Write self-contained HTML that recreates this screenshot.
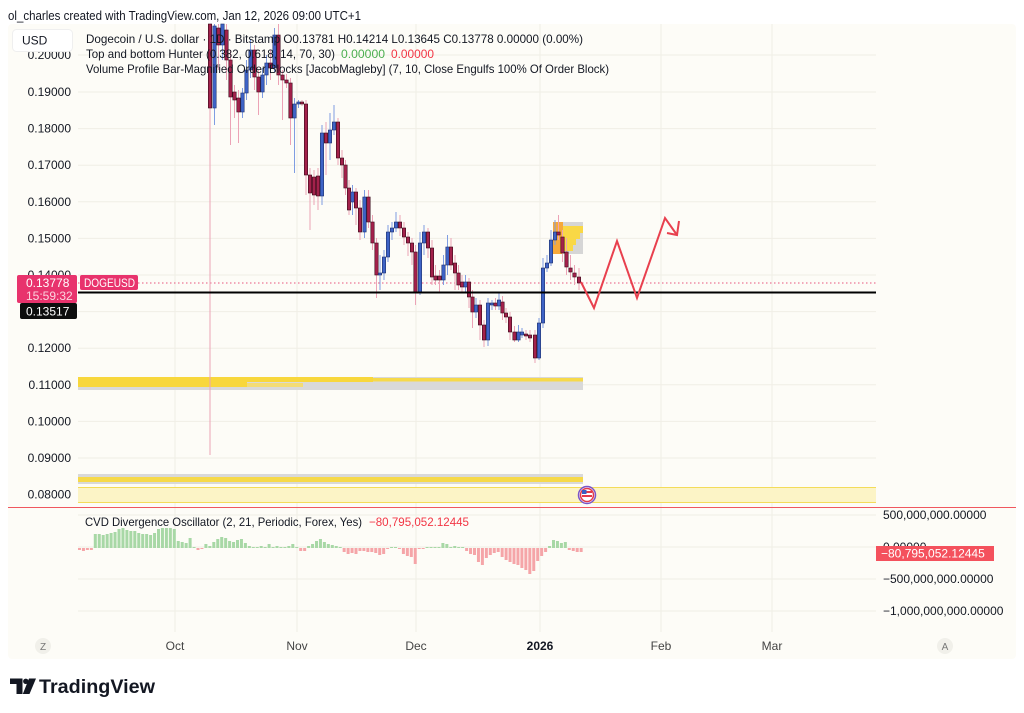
<!DOCTYPE html>
<html>
<head>
<meta charset="utf-8">
<style>
html,body{margin:0;padding:0;background:#fff;}
body{width:1024px;height:713px;overflow:hidden;}
svg{display:block;font-family:"Liberation Sans",Arial,sans-serif;}
</style>
</head>
<body>
<svg id="s" width="1024" height="713" viewBox="0 0 1024 713" xmlns="http://www.w3.org/2000/svg">
<rect x="0" y="0" width="1024" height="713" fill="#ffffff"/>
<text x="8" y="20" font-size="13" fill="#131722" textLength="353" lengthAdjust="spacingAndGlyphs">ol_charles created with TradingView.com, Jan 12, 2026 09:00 UTC+1</text>
<rect x="8" y="24" width="1008" height="635" rx="4" fill="#fdfcf7"/>

<!-- grid -->
<g stroke="#f0eee6" stroke-width="1">
<line x1="78" y1="55" x2="876" y2="55"/>
<line x1="78" y1="92" x2="876" y2="92"/>
<line x1="78" y1="128.6" x2="876" y2="128.6"/>
<line x1="78" y1="165.2" x2="876" y2="165.2"/>
<line x1="78" y1="201.8" x2="876" y2="201.8"/>
<line x1="78" y1="238.4" x2="876" y2="238.4"/>
<line x1="78" y1="275" x2="876" y2="275"/>
<line x1="78" y1="311.6" x2="876" y2="311.6"/>
<line x1="78" y1="348.2" x2="876" y2="348.2"/>
<line x1="78" y1="384.8" x2="876" y2="384.8"/>
<line x1="78" y1="421.4" x2="876" y2="421.4"/>
<line x1="78" y1="458" x2="876" y2="458"/>
<line x1="78" y1="494.6" x2="876" y2="494.6"/>
<line x1="78" y1="515" x2="876" y2="515"/>
<line x1="78" y1="547" x2="876" y2="547"/>
<line x1="78" y1="579" x2="876" y2="579"/>
<line x1="78" y1="611" x2="876" y2="611"/>
<line x1="175" y1="24" x2="175" y2="632"/>
<line x1="297" y1="24" x2="297" y2="632"/>
<line x1="416" y1="24" x2="416" y2="632"/>
<line x1="540" y1="24" x2="540" y2="632"/>
<line x1="661" y1="24" x2="661" y2="632"/>
<line x1="772" y1="24" x2="772" y2="632"/>
</g>

<!-- left price axis labels -->
<g font-size="12" fill="#131722" text-anchor="end">
<text x="71" y="59">0.20000</text>
<text x="71" y="96">0.19000</text>
<text x="71" y="132.6">0.18000</text>
<text x="71" y="169.2">0.17000</text>
<text x="71" y="205.8">0.16000</text>
<text x="71" y="242.4">0.15000</text>
<text x="71" y="279">0.14000</text>
<text x="71" y="352.2">0.12000</text>
<text x="71" y="388.8">0.11000</text>
<text x="71" y="425.4">0.10000</text>
<text x="71" y="462">0.09000</text>
<text x="71" y="498.6">0.08000</text>
</g>

<!-- order block zones -->
<rect x="78" y="377" width="505" height="13" fill="#d9d9d9"/>
<rect x="78" y="378" width="505" height="3.5" fill="#f6d94a"/>
<rect x="78" y="377" width="295" height="5" fill="#f8d73c"/>
<rect x="78" y="381" width="169" height="6" fill="#f8d73c"/>
<rect x="247" y="383" width="56" height="4" fill="#f3dc76"/>
<rect x="78" y="474" width="505" height="10" fill="#d9d9d9"/>
<rect x="78" y="477" width="505" height="5" fill="#f6d94a"/>
<rect x="78" y="487" width="798" height="16" fill="#fcf4c6"/>
<line x1="78" y1="487.5" x2="876" y2="487.5" stroke="#f3dc5a" stroke-width="1"/>
<line x1="78" y1="502.5" x2="876" y2="502.5" stroke="#f3dc5a" stroke-width="1"/>

<!-- volume profile box -->
<rect x="553" y="222" width="30" height="32" fill="#d6d6d6"/>
<rect x="553" y="222" width="10" height="32" fill="#f6a93a"/>
<rect x="563" y="226" width="20" height="7" fill="#f9d846"/>
<rect x="563" y="233" width="17" height="6" fill="#f9d846"/>
<rect x="563" y="239" width="13" height="6" fill="#f9d846"/>
<rect x="563" y="245" width="10" height="6" fill="#f9d846"/>

<!-- price lines -->
<line x1="78" y1="283" x2="876" y2="283" stroke="#e8557d" stroke-width="1" stroke-dasharray="1.5,2.5"/>

<g id="candles"></g>

<line x1="78" y1="292.5" x2="876" y2="292.5" stroke="#000" stroke-width="2"/>

<!-- projection zigzag -->
<polyline points="581,282 594,308 617,241 637,298 665,218 677,235" fill="none" stroke="#e8404e" stroke-width="2" stroke-linejoin="miter"/>
<polyline points="667,233 677,235 679,221" fill="none" stroke="#e8404e" stroke-width="2"/>

<!-- flag icon -->
<circle cx="587" cy="495" r="8.5" fill="#fff" stroke="#7a55c8" stroke-width="1.5"/>
<circle cx="587" cy="495" r="6.5" fill="#fff" stroke="#e23a4a" stroke-width="1.5"/>
<rect x="582" y="491" width="10" height="2" fill="#e23a4a"/>
<rect x="582" y="495" width="10" height="2" fill="#e23a4a"/>
<rect x="582" y="490" width="4.5" height="4" fill="#3a5fc4"/>

<!-- separator -->
<line x1="8" y1="507.5" x2="1016" y2="507.5" stroke="#f0575f" stroke-width="1"/>

<!-- histogram -->
<g id="hist"></g>

<!-- legend -->
<rect x="12.5" y="29.5" width="60" height="22" rx="4" fill="#ffffff" stroke="#efefef"/>
<text x="22" y="44.5" font-size="12" fill="#131722">USD</text>
<g font-size="12" fill="#131722">
<text x="86" y="43" textLength="497" lengthAdjust="spacingAndGlyphs">Dogecoin / U.S. dollar · 1D · Bitstamp  O0.13781  H0.14214  L0.13645  C0.13778  0.00000 (0.00%)</text>
<text x="86" y="58" textLength="249" lengthAdjust="spacingAndGlyphs">Top and bottom Hunter (0.382, 0.618, 14, 70, 30)</text>
<text x="341" y="58" fill="#4caf50" textLength="44" lengthAdjust="spacingAndGlyphs">0.00000</text>
<text x="391" y="58" fill="#f23645" textLength="43" lengthAdjust="spacingAndGlyphs">0.00000</text>
<text x="86" y="73" textLength="523" lengthAdjust="spacingAndGlyphs">Volume Profile Bar-Magnified Order Blocks [JacobMagleby] (7, 10, Close Engulfs 100% Of Order Block)</text>
<text x="85" y="526" textLength="277" lengthAdjust="spacingAndGlyphs">CVD Divergence Oscillator (2, 21, Periodic, Forex, Yes)</text>
<text x="369" y="526" fill="#f23645" textLength="100" lengthAdjust="spacingAndGlyphs">−80,795,052.12445</text>
</g>

<!-- price labels -->
<rect x="17" y="275" width="60" height="28" rx="2" fill="#e8336d"/>
<text x="26" y="287" font-size="12" fill="#fff">0.13778</text>
<text x="26" y="300" font-size="12" fill="#fbd3df">15:59:32</text>
<rect x="80" y="275" width="58" height="15" rx="2" fill="#e8336d"/>
<text x="84" y="287" font-size="12" fill="#fff" textLength="51" lengthAdjust="spacingAndGlyphs">DOGEUSD</text>
<rect x="20" y="303" width="57" height="16" rx="2" fill="#0d0d0d"/>
<text x="26" y="315.5" font-size="12" fill="#fff">0.13517</text>

<!-- right axis bottom pane -->
<g font-size="12" fill="#131722">
<text x="883" y="519">500,000,000.00000</text>
<text x="883" y="551">0.00000</text>
<text x="883" y="583">−500,000,000.00000</text>
<text x="883" y="615">−1,000,000,000.00000</text>
</g>
<rect x="876" y="546" width="118" height="15" fill="#f4515d"/>
<text x="881" y="557.5" font-size="12" fill="#fff">−80,795,052.12445</text>

<!-- time axis -->
<circle cx="43" cy="646" r="8" fill="#f1f0ea"/>
<text x="43" y="650" font-size="10" fill="#777" text-anchor="middle">Z</text>
<circle cx="945" cy="646" r="8" fill="#f1f0ea"/>
<text x="945" y="650" font-size="10" fill="#777" text-anchor="middle">A</text>
<g font-size="12" fill="#444" text-anchor="middle">
<text x="175" y="650">Oct</text>
<text x="297" y="650">Nov</text>
<text x="416" y="650">Dec</text>
<text x="540" y="650" font-weight="bold" fill="#131722">2026</text>
<text x="661" y="650">Feb</text>
<text x="772" y="650">Mar</text>
</g>

<!-- logo -->
<path d="M10,678.5 H22.5 V694 H16.5 V684 H10 Z" fill="#131722"/>
<circle cx="25.8" cy="681.3" r="2.7" fill="#131722"/>
<path d="M29,678.5 H36 L29.5,694 H22.8 Z" fill="#131722"/>
<text x="39" y="693" font-size="19" font-weight="bold" fill="#131722" textLength="116" lengthAdjust="spacingAndGlyphs">TradingView</text>
</svg>

<script>
(function(){
var NS="http://www.w3.org/2000/svg";
var C=[[210,24,108,22,455],[214.5,108,26,22,125],[218.5,28,45,22,70],[222.5,45,24,22,60],[226.5,30,60,24,80],[230.5,60,97,50,145],[234.5,92,100,85,118],[238.5,98,112,90,143],[242.5,112,93,88,118],[246.5,93,70,60,100],[250.5,70,50,40,78],[254.5,50,77,45,90],[258.5,77,92,70,115],[262.5,92,75,68,98],[266.5,75,63,55,85],[270.5,63,68,50,80],[274.5,68,35,28,72],[278.5,35,75,24,85],[282.5,75,80,70,120],[286.5,80,83,74,88],[290.5,83,118,78,145],[294.5,118,104,98,173],[298.5,104,102,100,108],[302,102,104,100,106],[306,104,175,100,195],[310,175,193,168,230],[314,177,195,170,205],[318,176,196,168,210],[322,196,133,125,205],[326,133,143,122,175],[330,143,130,113,160],[334,130,122,105,135],[338,122,158,118,165],[342,158,165,150,178],[345.5,165,188,160,195],[349,188,210,180,215],[352.5,202,192,185,215],[356,192,208,188,225],[360,208,232,200,240],[364.5,232,197,190,238],[368.5,197,222,190,228],[372.5,222,243,215,250],[376.5,243,275,238,298],[380,275,273,255,290],[384,273,257,250,280],[388,257,232,225,262],[392,232,228,222,240],[396,228,222,212,232],[400,222,228,215,236],[404,228,237,222,245],[408,237,243,232,256],[412,243,252,238,265],[415.5,252,292,245,305],[420,292,243,232,295],[424,243,232,225,255],[428,232,248,228,258],[432,248,277,240,285],[435.5,276,280,265,285],[439.5,276,280,270,292],[443.5,280,265,255,285],[447.5,265,247,235,275],[451,247,265,238,270],[455,263,273,255,290],[458.5,273,285,265,290],[462,282,287,275,292],[465.5,287,282,275,292],[469,282,297,278,308],[472.5,297,312,290,328],[476,312,305,298,318],[480,305,325,300,340],[484,325,340,320,347],[488,340,303,298,346],[492,305,303,300,310],[495.5,303,306,298,310],[499,306,300,293,310],[502.5,302,313,296,320],[506,313,317,308,323],[510,317,332,312,340],[514.5,332,340,326,342],[518.5,340,332,325,342],[522,335,332,328,338],[526,334,336,330,340],[530,335,338,330,342],[535,335,358,330,363],[539,358,323,318,360],[543,323,268,258,328],[547,268,263,255,272],[551,263,240,230,266],[555,240,232,220,245],[558.5,232,235,215,240],[562.5,237,253,230,262],[566.5,252,267,238,275],[570.5,268,272,255,280],[574.5,273,277,265,285],[579,277,283,268,290]];
var g=document.getElementById("candles");
function el(n,a){var e=document.createElementNS(NS,n);for(var k in a)e.setAttribute(k,a[k]);return e;}
C.forEach(function(c){
 var x=c[0],o=c[1],cl=c[2],h=Math.max(c[3],24),l=c[4];
 var up=cl<o;
 g.appendChild(el("line",{x1:x,y1:h,x2:x,y2:l,stroke:up?"#7f9de2":"#eca3b6","stroke-width":1}));
 var t=Math.max(Math.min(o,cl),24),b=Math.max(o,cl);
 if(b-t<1.5){b=t+1.5;}
 g.appendChild(el("rect",{x:x-1.7,y:t,width:3.4,height:b-t,fill:up?"#3e63c6":"#a3214b",stroke:up?"#22336e":"#3b0d1c","stroke-width":0.6}));
});
var H=[-2,-3,-2,-2,14,14,13,14,15,16,19,20,18,17,17,15,14,14,13,15,19,20,20,20,19,7,6,5,10,1,-2,-1,4,2,6,9,11,10,7,6,8,9,5,2,1,1,2,1,4,1,2,1,1,2,4,1,-3,-3,2,4,7,9,6,4,3,2,1,-4,-6,-5,-6,-3,-3,-4,-4,-5,-7,-6,-1,1,1,-1,-6,-8,-9,-16,-1,-1,1,1,1,1,5,4,1,2,1,1,-3,-6,-7,-14,-17,-10,-7,-5,-4,-9,-12,-14,-16,-17,-20,-22,-26,-23,-13,-8,-4,2,8,7,5,6,-2,-3,-4,-4];
var hg=document.getElementById("hist");
H.forEach(function(v,k){
 var x=78+k*3.95;
 var base=548;
 if(v>=0){hg.appendChild(el("rect",{x:x,y:base-v,width:3,height:Math.max(v,1),fill:"#a8d8a6"}));}
 else{hg.appendChild(el("rect",{x:x,y:base,width:3,height:-v,fill:"#f5a5a8"}));}
});
})();
</script>
</body>
</html>
